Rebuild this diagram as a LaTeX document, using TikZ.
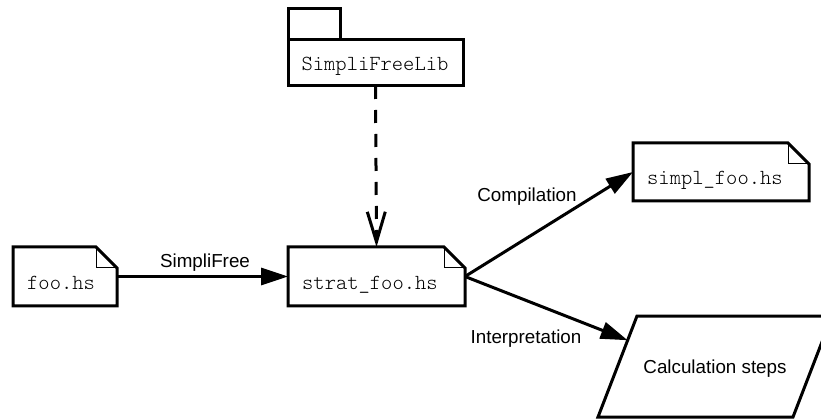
\documentclass[tikz,border=0pt]{standalone}
\usepackage{fontspec}
\setmainfont{Liberation Sans}
\newfontfamily\lightmono{lmmonolt10-regular.otf}
\usetikzlibrary{arrows.meta,calc}

\tikzset{
  outline/.style={draw=black, line width=3pt, line join=miter},
  fold/.style={draw=black, line width=1pt},
  slot/.style={draw=none, inner sep=0pt, outer sep=0pt},
  monotext/.style={font=\lightmono\fontsize{21.5}{24}\selectfont},
  filename/.style={inner sep=0pt, anchor=base west, monotext},
  caption/.style={inner sep=0pt, anchor=base, font=\fontsize{18.8}{22}\selectfont},
  flow/.style={line width=3pt, -{Triangle[length=27pt, width=17pt]}},
  uses/.style={line width=3pt, dash pattern=on 13pt off 11pt, -{Straight Barb[length=30pt, width=18pt]}},
}

% folded-corner note around an empty slot node
\newcommand\notebox[1]{%
  \draw[outline] (#1.north west) -- ([xshift=-21pt]#1.north east)
    -- ([yshift=-21pt]#1.north east) -- (#1.south east) -- (#1.south west) -- cycle;
  \draw[fold] ([xshift=-21pt]#1.north east) |- ([yshift=-21pt]#1.north east);
}

\begin{document}
\begin{tikzpicture}[x=1pt, y=-1pt]
  \useasboundingbox (0,0) rectangle (821,419);
  \clip (0,0) rectangle (821,419);
  \fill[white] (0,0) rectangle (821,419);

  % library package
  \node[slot, minimum width=175pt, minimum height=46pt] (lib) at (375.5,63) {};
  \draw[outline, fill=white] (lib.north west) rectangle (340,9);
  \draw[outline] (lib.north west) rectangle (lib.south east);
  \node[caption, monotext] (libtxt) at (375,71) {SimpliFreeLib};

  % source files
  \node[slot, minimum width=104pt, minimum height=59pt] (foo) at (65,276.5) {};
  \notebox{foo}
  \node[filename] (footxt) at ([xshift=14pt,yshift=-13pt]foo.west) {foo.hs};

  \node[slot, minimum width=177pt, minimum height=59pt] (strat) at (376.5,276.5) {};
  \notebox{strat}
  \node[filename] (strattxt) at ([xshift=14pt,yshift=-13pt]strat.west) {strat\_foo.hs};

  \node[slot, minimum width=176pt, minimum height=58pt] (simpl) at (721,172) {};
  \notebox{simpl}
  \node[filename] (simpltxt) at ([xshift=14pt,yshift=-13pt]simpl.west) {simpl\_foo.hs};

  % calculation steps (parallelogram)
  \coordinate (ctl) at (637,316);
  \coordinate (ctr) at (832,316);
  \coordinate (cbr) at (793,417);
  \coordinate (cbl) at (598,417);
  \draw[outline] (ctl) -- (ctr) -- (cbr) -- (cbl) -- cycle;
  \node[caption] (calc) at (715,373) {Calculation steps};
  \coordinate (calcin) at ($(ctl)!0.24!(cbl)$);

  % connectors
  \draw[uses] (lib.south) -- (strat.north);
  \draw[flow] (foo.east) -- (strat.west);
  \draw[flow] (strat.east) -- (simpl.west);
  \draw[flow] (strat.east) -- (calcin);

  % connector labels
  \node[caption] (lblsf) at (205,268) {SimpliFree};
  \node[caption] (lblcomp) at (527,202) {Compilation};
  \node[caption] (lblint) at (526,343) {Interpretation};
\end{tikzpicture}
\end{document}
